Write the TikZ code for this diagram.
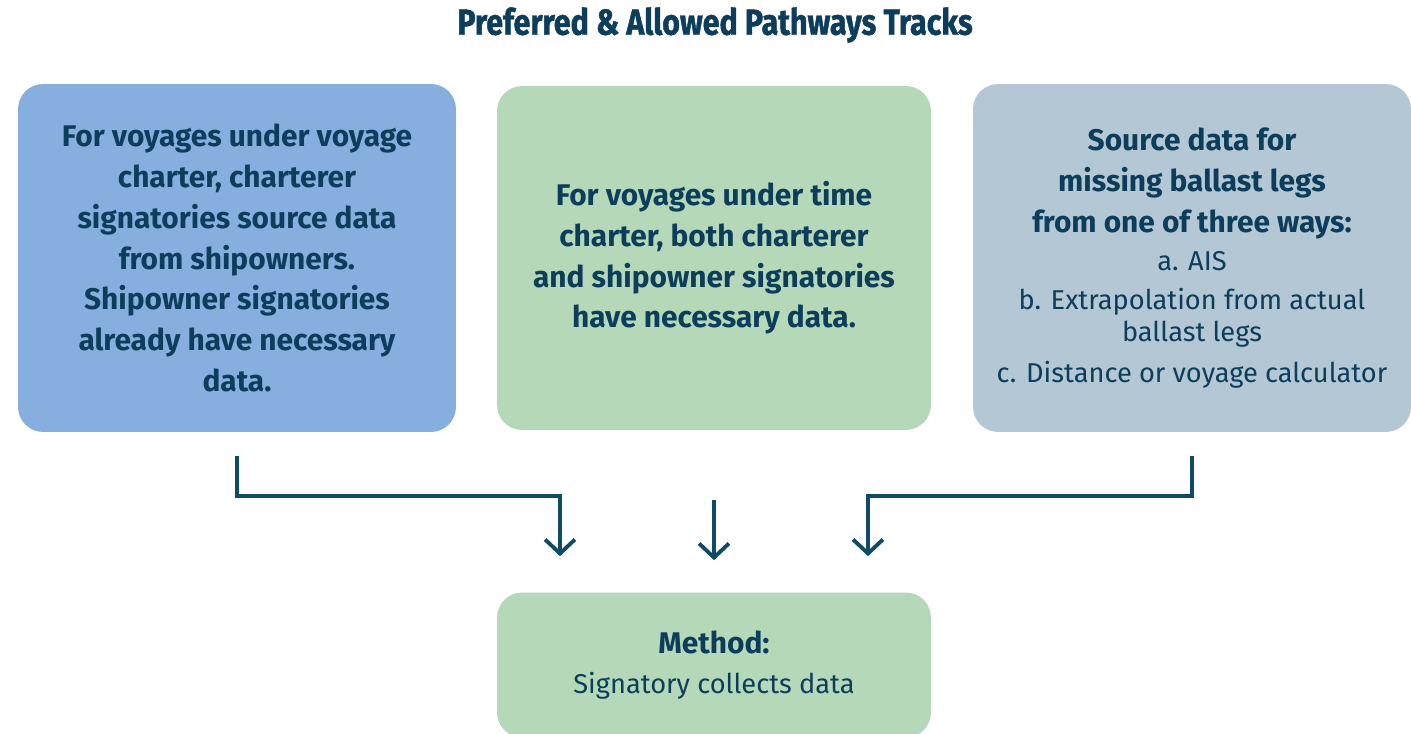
\documentclass[tikz,border=0pt]{standalone}
\usepackage{fontspec}
\setmainfont{Fira Sans}
\newfontfamily\titlefont[FakeStretch=0.84,FakeBold=1.2]{Fira Sans}
\usetikzlibrary{arrows.meta}
\definecolor{navy}{HTML}{0C3D5A}
\definecolor{linkc}{HTML}{0F4A66}
\definecolor{bluebox}{HTML}{86AEDE}
\definecolor{greenbox}{HTML}{B5D8B9}
\definecolor{greybox}{HTML}{B3C7D4}
\newcommand{\reg}{\fontsize{15.5}{23.2}\selectfont\mdseries}
\begin{document}
\begin{tikzpicture}[x=0.02cm,y=-0.02cm,navy,
	box/.style={rounded corners=0.5cm,minimum width=8.76cm,minimum height=6.96cm,align=center,text=navy,font=\fontsize{17}{23.2}\selectfont\bfseries},
	link/.style={line width=2.2pt,linkc,-{Straight Barb[length=8pt,width=17pt,line width=2.2pt]}}]
		\useasboundingbox[fill=white](0,0) rectangle (1411,734);
		\node (title) at (715,25) {\titlefont\fontsize{20.6}{24}\selectfont\bfseries Preferred \& Allowed Pathways Tracks};
		% three tracks
		\node[box,fill=bluebox] (voy) at (237,258) {For voyages under voyage\\charter, charterer\\signatories source data\\from shipowners.\\Shipowner signatories\\already have necessary\\data.};
		\node[box,fill=greenbox,minimum width=8.68cm,minimum height=6.88cm] (time) at (714,258) {For voyages under time\\charter, both charterer\\and shipowner signatories\\have necessary data.};
		\node[box,fill=greybox] (ball) at (1192,258) {Source data for\\missing ballast legs\\from one of three ways:\\[-1.1pt]
			\reg a. AIS\\[-1.1pt]\reg b. Extrapolation from actual\\[-5pt]\reg ballast legs\\\reg c. Distance or voyage calculator};
		\node[box,fill=greenbox,minimum width=8.68cm,minimum height=2.9cm] (meth) at (714,665) {Method:\\\reg Signatory collects data};
		% connectors
		\coordinate (jl) at (560,496);
		\coordinate (jr) at (868,496);
		\draw[link,shorten <=0.48cm,shorten >=0.72cm] (voy.south) |- (jl) -- (jl |- meth.north);
		\draw[link,shorten <=1.4cm,shorten >=0.64cm] (time.south) -- (meth.north);
		\draw[link,shorten <=0.48cm,shorten >=0.72cm] (ball.south) |- (jr) -- (jr |- meth.north);
\end{tikzpicture}
\end{document}
